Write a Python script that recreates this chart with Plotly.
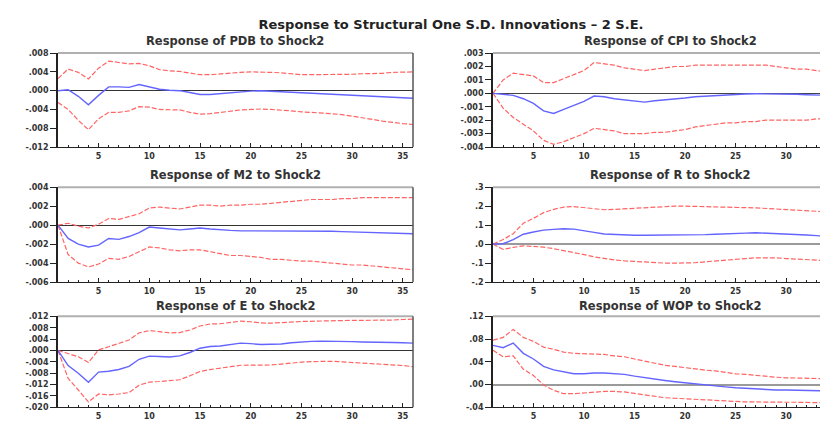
import plotly.graph_objects as go
from plotly.subplots import make_subplots

periods = list(range(1, 37))

# ---- PDB ----
pdb_resp = [0.0, 0.0002, -0.0012, -0.003, -0.001, 0.0008, 0.0008, 0.0007, 0.0013, 0.0008,
            0.0003, 0.0001, 0.0, -0.0004, -0.0008, -0.0008, -0.0006, -0.0004, -0.0003, -0.0001,
            0.0, -0.0001, -0.0002, -0.0004, -0.0005, -0.0006, -0.0006, -0.0007, -0.0008, -0.001,
            -0.0011, -0.0012, -0.0013, -0.0014, -0.0015, -0.0016]
pdb_up = [0.0026, 0.0046, 0.0039, 0.0025, 0.0048, 0.0063, 0.006, 0.0057, 0.0058, 0.0053,
          0.0045, 0.0042, 0.0041, 0.0038, 0.0034, 0.0034, 0.0036, 0.0037, 0.0039, 0.004,
          0.004, 0.0039, 0.0038, 0.0036, 0.0034, 0.0034, 0.0034, 0.0035, 0.0035, 0.0035,
          0.0036, 0.0036, 0.0037, 0.0039, 0.0039, 0.004]
pdb_lo = [-0.0025, -0.004, -0.0063, -0.0083, -0.006, -0.0046, -0.0046, -0.0043, -0.0034, -0.0035,
          -0.004, -0.004, -0.0041, -0.0046, -0.005, -0.0049, -0.0046, -0.0043, -0.0041, -0.004,
          -0.0039, -0.004, -0.0041, -0.0043, -0.0045, -0.0046, -0.0047, -0.0049, -0.0051, -0.0054,
          -0.0058, -0.0061, -0.0065, -0.0068, -0.007, -0.0072]

# ---- CPI ----
cpi_resp = [0.0, -0.0001, -0.00015, -0.0004, -0.00075, -0.0013, -0.0015, -0.0012, -0.0009, -0.0006,
            -0.0002, -0.00025, -0.0004, -0.0005, -0.0006, -0.00065, -0.00055, -0.0005, -0.00045, -0.00035,
            -0.00025, -0.0002, -0.00015, -0.0001, -0.00008, -0.00005, -0.00003, -0.00003, -0.00003, -0.00005,
            -0.00007, -0.0001, -0.00012, -0.00015, -0.00017, -0.0002]
cpi_up = [0.0, 0.001, 0.0015, 0.0014, 0.0013, 0.0008, 0.0008, 0.0011, 0.0014, 0.0017,
          0.0023, 0.0022, 0.0021, 0.0019, 0.0018, 0.0017, 0.0018, 0.0019, 0.002, 0.002,
          0.0021, 0.0021, 0.0021, 0.0021, 0.0021, 0.0021, 0.0021, 0.0021, 0.002, 0.0019,
          0.0018, 0.0018, 0.0017, 0.0016, 0.0015, 0.0014]
cpi_lo = [0.0, -0.0011, -0.0018, -0.0023, -0.0028, -0.0035, -0.0038, -0.0036, -0.0033, -0.003,
          -0.0026, -0.0027, -0.0028, -0.003, -0.003, -0.003, -0.0029, -0.0029, -0.0028, -0.0027,
          -0.0025, -0.0024, -0.0023, -0.0022, -0.0022, -0.0021, -0.0021, -0.002, -0.002, -0.002,
          -0.002, -0.002, -0.0019, -0.0019, -0.0019, -0.0019]

# ---- M2 ----
m2_resp = [0.0, -0.0014, -0.002, -0.0023, -0.0021, -0.0014, -0.0015, -0.0012, -0.0008, -0.0002,
           -0.0003, -0.0004, -0.0005, -0.0004, -0.0003, -0.0004, -0.0005, -0.00055, -0.0006, -0.0006,
           -0.0006, -0.0006, -0.0006, -0.0006, -0.0006, -0.00062, -0.00064, -0.00065, -0.00068, -0.0007,
           -0.00072, -0.00075, -0.00078, -0.0008, -0.00085, -0.0009]
m2_up = [0.0, 0.0002, -0.0001, -0.0003, 0.0001, 0.0007, 0.0006, 0.0009, 0.0012, 0.0018,
         0.0019, 0.0018, 0.0017, 0.0019, 0.0021, 0.0021, 0.002, 0.0021, 0.0021, 0.0022,
         0.0022, 0.0023, 0.0024, 0.0025, 0.0026, 0.0027, 0.0027, 0.0027, 0.0028, 0.0028,
         0.0029, 0.0029, 0.0029, 0.0029, 0.0029, 0.0029]
m2_lo = [0.0, -0.0031, -0.004, -0.0044, -0.0041, -0.0035, -0.0036, -0.0033, -0.0028, -0.0023,
         -0.0024, -0.0026, -0.0027, -0.0026, -0.0026, -0.0028, -0.003, -0.0032, -0.0032, -0.0033,
         -0.0034, -0.0036, -0.0036, -0.0037, -0.0038, -0.0038, -0.0039, -0.004, -0.0041, -0.0042,
         -0.0042, -0.0043, -0.0044, -0.0045, -0.0046, -0.0047]

# ---- R ----
r_resp = [0.0, 0.002, 0.024, 0.052, 0.064, 0.074, 0.078, 0.081, 0.079, 0.072,
          0.062, 0.053, 0.05, 0.048, 0.047, 0.047, 0.047, 0.048, 0.048, 0.048,
          0.048, 0.05, 0.052, 0.053, 0.055, 0.058, 0.06, 0.058, 0.057, 0.053,
          0.052, 0.048, 0.045, 0.041, 0.036, 0.033]
r_up = [0.0, 0.024, 0.055, 0.11, 0.136, 0.166, 0.183, 0.195, 0.198, 0.193,
        0.186, 0.181, 0.183, 0.186, 0.188, 0.191, 0.195, 0.198, 0.2, 0.2,
        0.198, 0.197, 0.195, 0.195, 0.193, 0.192, 0.191, 0.188, 0.186, 0.184,
        0.181, 0.178, 0.174, 0.171, 0.167, 0.164]
r_lo = [0.0, -0.028, -0.017, -0.009, -0.012, -0.016, -0.024, -0.033, -0.043, -0.055,
        -0.067, -0.076, -0.083, -0.088, -0.091, -0.095, -0.098, -0.1, -0.1, -0.1,
        -0.098, -0.093, -0.088, -0.083, -0.079, -0.076, -0.072, -0.071, -0.072, -0.076,
        -0.078, -0.081, -0.084, -0.09, -0.093, -0.098]

# ---- E ----
e_resp = [0.0, -0.0053, -0.008, -0.0112, -0.0076, -0.0073, -0.0067, -0.0056, -0.0031, -0.002,
          -0.0021, -0.0023, -0.0019, -0.0007, 0.0008, 0.0014, 0.0016, 0.0021, 0.0026, 0.0024,
          0.0021, 0.0022, 0.0023, 0.0027, 0.003, 0.0032, 0.0033, 0.0033, 0.0033, 0.0031,
          0.003, 0.003, 0.0029, 0.0028, 0.0027, 0.0026]
e_up = [0.0, -0.0011, -0.0022, -0.0042, 0.0002, 0.0013, 0.0026, 0.0037, 0.0062, 0.007,
        0.0066, 0.0062, 0.0063, 0.0072, 0.0086, 0.0093, 0.0094, 0.0099, 0.0103, 0.0101,
        0.0097, 0.0096, 0.0097, 0.01, 0.0102, 0.0103, 0.0104, 0.0106, 0.0106, 0.0106,
        0.0106, 0.0106, 0.0106, 0.0107, 0.0109, 0.011]
e_lo = [0.0, -0.0098, -0.0139, -0.0181, -0.0153, -0.0156, -0.0153, -0.0148, -0.0122, -0.0111,
        -0.0109, -0.0107, -0.0103, -0.0089, -0.0074, -0.0067, -0.0063, -0.0057, -0.0052, -0.0052,
        -0.0052, -0.0051, -0.0048, -0.0044, -0.0041, -0.0039, -0.0038, -0.0038, -0.004, -0.0042,
        -0.0044, -0.0047, -0.0049, -0.0051, -0.0053, -0.0057]

# ---- WOP ----
wop_resp = [0.069, 0.065, 0.073, 0.055, 0.045, 0.032, 0.026, 0.022, 0.019, 0.019,
            0.0205, 0.0205, 0.0195, 0.018, 0.015, 0.012, 0.0095, 0.0072, 0.005, 0.003,
            0.001, -0.0005, -0.002, -0.004, -0.0055, -0.0067, -0.0078, -0.009, -0.0094, -0.0094,
            -0.01, -0.01, -0.0105, -0.011, -0.011, -0.0117]
wop_up = [0.078, 0.083, 0.097, 0.083, 0.076, 0.066, 0.062, 0.057, 0.055, 0.054,
          0.054, 0.053, 0.0505, 0.049, 0.045, 0.041, 0.037, 0.034, 0.032, 0.0295,
          0.028, 0.0255, 0.024, 0.0215, 0.019, 0.018, 0.016, 0.0145, 0.013, 0.012,
          0.0117, 0.011, 0.0105, 0.01, 0.01, 0.0095]
wop_lo = [0.0605, 0.049, 0.0505, 0.027, 0.016, -0.0005, -0.01, -0.016, -0.016, -0.0145,
          -0.0128, -0.012, -0.012, -0.0128, -0.0155, -0.018, -0.021, -0.023, -0.024, -0.025,
          -0.026, -0.0267, -0.0278, -0.029, -0.03, -0.0305, -0.0305, -0.031, -0.031, -0.031,
          -0.031, -0.0317, -0.0317, -0.0317, -0.032, -0.032]

# ---- tick labels ----
x_tickvals = [5, 10, 15, 20, 25, 30, 35]
x_ticktext = ["5", "10", "15", "20", "25", "30", "35"]

pdb_tv = [0.008, 0.004, 0.0, -0.004, -0.008, -0.012]
pdb_tt = [".008", ".004", ".000", "-.004", "-.008", "-.012"]
cpi_tv = [0.003, 0.002, 0.001, 0.0, -0.001, -0.002, -0.003, -0.004]
cpi_tt = [".003", ".002", ".001", ".000", "-.001", "-.002", "-.003", "-.004"]
m2_tv = [0.004, 0.002, 0.0, -0.002, -0.004, -0.006]
m2_tt = [".004", ".002", ".000", "-.002", "-.004", "-.006"]
r_tv = [0.3, 0.2, 0.1, 0.0, -0.1, -0.2]
r_tt = [".3", ".2", ".1", ".0", "-.1", "-.2"]
e_tv = [0.012, 0.008, 0.004, 0.0, -0.004, -0.008, -0.012, -0.016, -0.020]
e_tt = [".012", ".008", ".004", ".000", "-.004", "-.008", "-.012", "-.016", "-.020"]
wop_tv = [0.12, 0.08, 0.04, 0.0, -0.04]
wop_tt = [".12", ".08", ".04", ".00", "-.04"]

panels = [
    ("Response of PDB to Shock2", pdb_resp, pdb_up, pdb_lo, pdb_tv, pdb_tt, 1, 1, "#333333", 1),
    ("Response of CPI to Shock2", cpi_resp, cpi_up, cpi_lo, cpi_tv, cpi_tt, 1, 2, "#444444", 1),
    ("Response of M2 to Shock2", m2_resp, m2_up, m2_lo, m2_tv, m2_tt, 2, 1, "#333333", 1),
    ("Response of R to Shock2", r_resp, r_up, r_lo, r_tv, r_tt, 2, 2, "#9a9a9a", 2),
    ("Response of E to Shock2", e_resp, e_up, e_lo, e_tv, e_tt, 3, 1, "#333333", 1),
    ("Response of WOP to Shock2", wop_resp, wop_up, wop_lo, wop_tv, wop_tt, 3, 2, "#9a9a9a", 2),
]

W, H = 828, 421
col_dom = {1: (50 / W, 405 / W), 2: (485 / W, 1.0)}
col_xrange = {1: [1, 36], 2: [1, 34.93]}
col_center = {1: 227 / W, 2: 662 / W}
row_px = {1: (42, 138), 2: (179, 276), 3: (311, 404)}
row_title_y = {1: 30, 2: 167, 3: 300}

fig = make_subplots(rows=3, cols=2)

RED = "rgb(255,100,100)"
BLUE = "rgb(100,100,255)"
tick_font = dict(family="DejaVu Sans", size=8, color="#333333", weight="bold")

for title, resp, up, lo, tv, tt, r, c, zc, zw in panels:
    fig.add_trace(go.Scatter(x=periods, y=up, mode="lines",
                             line=dict(color=RED, width=1.2, dash="5px,2px"),
                             showlegend=False, hoverinfo="skip"), row=r, col=c)
    fig.add_trace(go.Scatter(x=periods, y=lo, mode="lines",
                             line=dict(color=RED, width=1.2, dash="5px,2px"),
                             showlegend=False, hoverinfo="skip"), row=r, col=c)
    fig.add_trace(go.Scatter(x=periods, y=resp, mode="lines",
                             line=dict(color=BLUE, width=1.4),
                             showlegend=False), row=r, col=c)
    y0, y1 = row_px[r]
    fig.update_xaxes(domain=list(col_dom[c]), range=col_xrange[c],
                     tickvals=x_tickvals, ticktext=x_ticktext,
                     ticks="inside", ticklen=4, tickcolor="#222222", tickwidth=1,
                     minor=dict(dtick=1, tick0=0, ticks="inside", ticklen=2,
                                tickcolor="#222222", showgrid=False),
                     showline=True, linecolor="#222222", linewidth=1,
                     showgrid=False, zeroline=False, tickfont=tick_font,
                     ticklabelstandoff=1,
                     row=r, col=c)
    fig.update_yaxes(domain=[1 - y1 / H, 1 - y0 / H],
                     range=[min(tv), max(tv)], tickvals=tv, ticktext=tt,
                     ticks="outside", ticklen=6, tickcolor="#222222",
                     showline=True, linecolor="#222222", linewidth=1.8,
                     showgrid=False, zeroline=True, zerolinecolor=zc, zerolinewidth=zw,
                     tickfont=tick_font, row=r, col=c)
    fig.add_annotation(text=title, x=col_center[c], y=1 - row_title_y[r] / H,
                       xref="paper", yref="paper", showarrow=False,
                       xanchor="center", yanchor="middle",
                       font=dict(family="DejaVu Sans", size=11.5, color="#333333", weight="bold"))

# panel frames: light gray top, dark right border on left column
for r in (1, 2, 3):
    for c in (1, 2):
        y0, y1 = row_px[r]
        x0d, x1d = col_dom[c]
        fig.add_shape(type="line", xref="paper", yref="paper",
                      x0=x0d, x1=x1d, y0=1 - y0 / H, y1=1 - y0 / H,
                      line=dict(color="#b0b0b0", width=2))
        if c == 1:
            fig.add_shape(type="line", xref="paper", yref="paper",
                          x0=x1d, x1=x1d, y0=1 - y1 / H, y1=1 - y0 / H,
                          line=dict(color="#555555", width=1.5))

fig.update_layout(
    width=W, height=H,
    margin=dict(l=0, r=0, t=0, b=0),
    paper_bgcolor="white", plot_bgcolor="white",
    title=dict(text="Response to Structural One S.D. Innovations \u2013 2 S.E.",
               x=443 / W, xanchor="center", y=1 - 16 / H, yanchor="middle",
               font=dict(family="DejaVu Sans", size=13, color="#222222", weight="bold")),
)

fig.write_html("out.html")
